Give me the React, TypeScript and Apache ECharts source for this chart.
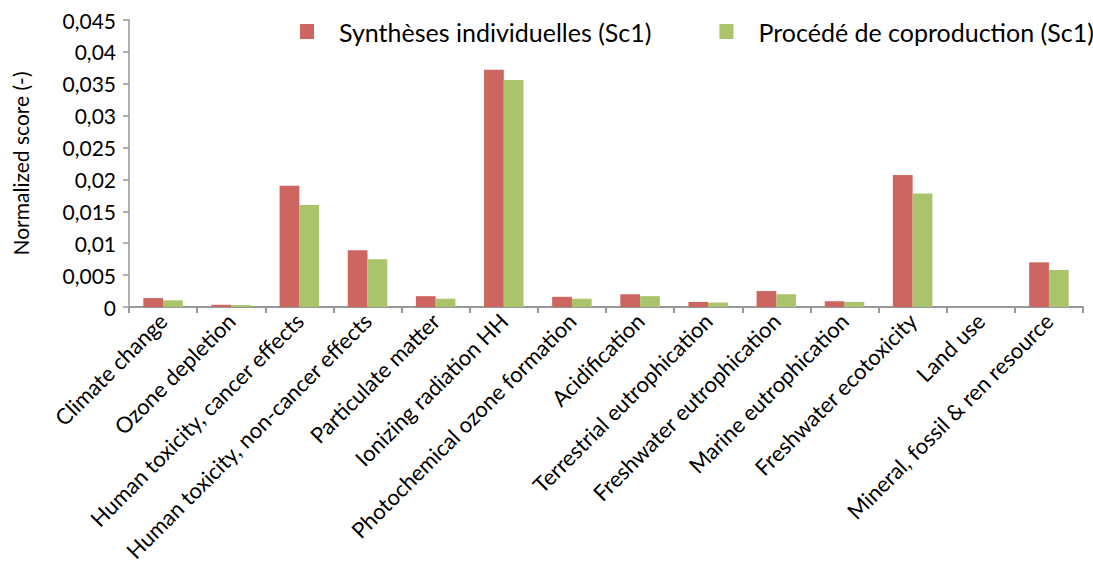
import React, { useEffect, useRef } from "react";
import * as echarts from "echarts";

const categories = [
  "Climate change",
  "Ozone depletion",
  "Human toxicity, cancer effects",
  "Human toxicity, non-cancer effects",
  "Particulate matter",
  "Ionizing radiation HH",
  "Photochemical ozone formation",
  "Acidification",
  "Terrestrial eutrophication",
  "Freshwater eutrophication",
  "Marine eutrophication",
  "Freshwater ecotoxicity",
  "Land use",
  "Mineral, fossil & ren resource",
];
const seriesNames = ["Synthèses individuelles (Sc1)", "Procédé de coproduction (Sc1)"];
const sc1Individual = [0.0014, 0.00035, 0.019, 0.0089, 0.0017, 0.0372, 0.0016, 0.002, 0.0008, 0.0025, 0.0009, 0.0207, 0, 0.007];
const sc1Coproduction = [0.00105, 0.0003, 0.016, 0.0075, 0.0013, 0.0356, 0.0013, 0.0017, 0.0007, 0.002, 0.0008, 0.0178, 0, 0.0058];
const colors = ["#CD6660", "#A9C46A"];

export default function App() {
  const ref = useRef<HTMLDivElement>(null);
  useEffect(() => {
    const chart = echarts.init(ref.current!, null, { renderer: "svg" });
    const font = "Lato, 'Open Sans', sans-serif";
    chart.setOption({
      animation: false,
      textStyle: { fontFamily: font },
      legend: {
        top: 14,
        left: 295,
        width: 900,
        itemWidth: 14,
        itemHeight: 15,
        itemGap: 68,
        icon: "rect",
        textStyle: { fontSize: 25, color: "#000", fontFamily: font, padding: [0, 0, 0, 20] },
        data: seriesNames,
      },
      grid: { left: 129, right: 10, top: 20, bottom: 269, containLabel: false },
      xAxis: {
        type: "category",
        data: categories,
        axisLine: { lineStyle: { color: "#999", width: 2 } },
        axisTick: { show: true, length: 6, lineStyle: { color: "#999", width: 2 } },
        axisLabel: { rotate: 45, fontSize: 22, color: "#000", margin: 10, interval: 0, fontFamily: font },
      },
      yAxis: {
        type: "value",
        min: 0,
        max: 0.045,
        interval: 0.005,
        name: "Normalized score (-)",
        nameLocation: "middle",
        nameGap: 98,
        nameTextStyle: { fontSize: 21, color: "#000", fontFamily: font },
        axisLine: { show: true, lineStyle: { color: "#999", width: 1.5 } },
        axisTick: { show: true, length: 6, lineStyle: { color: "#999", width: 1.5 } },
        splitLine: { show: false },
        axisLabel: {
          fontSize: 21,
          color: "#000",
          margin: 13,
          fontFamily: font,
          formatter: (v: number) => (v === 0 ? "0" : String(parseFloat(v.toFixed(3))).replace(".", ",")),
        },
      },
      series: [
        {
          name: seriesNames[0],
          type: "bar",
          data: sc1Individual,
          itemStyle: { color: colors[0] },
          barGap: "0%",
          barCategoryGap: "42%",
        },
        {
          name: seriesNames[1],
          type: "bar",
          data: sc1Coproduction,
          itemStyle: { color: colors[1] },
          barGap: "0%",
          barCategoryGap: "42%",
        },
      ],
    });
    return () => chart.dispose();
  }, []);
  return <div ref={ref} style={{ width: 1093, height: 576, position: "absolute", left: 0, top: 0 }} />;
}
